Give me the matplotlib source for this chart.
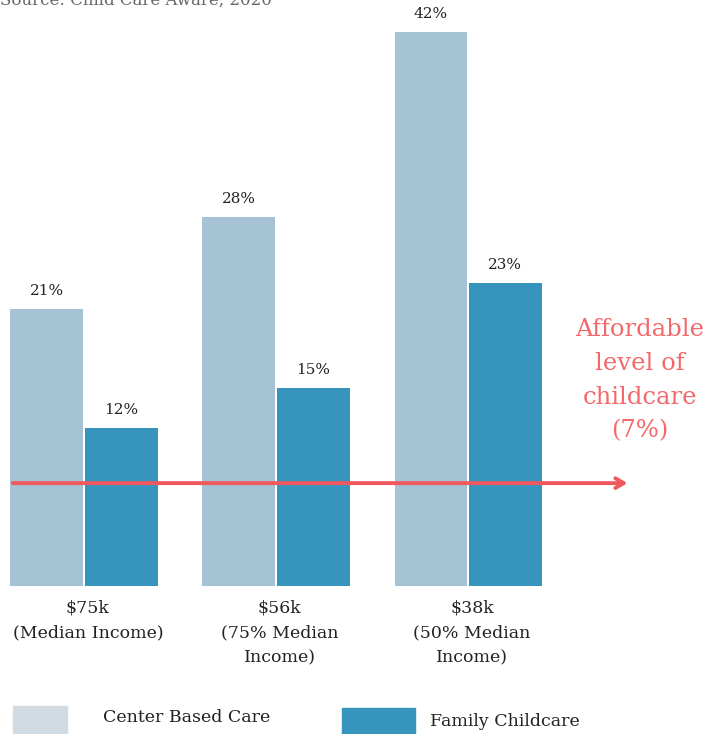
import matplotlib
matplotlib.use("Agg")
import matplotlib.pyplot as plt
import numpy as np
from matplotlib.patches import Rectangle

# Data
groups = ["$75k\n(Median Income)", "$56k\n(75% Median\nIncome)", "$38k\n(50% Median\nIncome)"]
center_based = [21, 28, 42]
family_care = [12, 15, 23]
series_names = ["Center Based Care", "Family Childcare"]
affordable_level = 7.8  # drawn position of the 7% line in the source graphic
affordable_text = "Affordable\nlevel of\nchildcare\n(7%)"
source_text = "Source: Child Care Aware, 2020"

LIGHT = "#a6c3d6"
DARK = "#3795bd"
LEGEND_LIGHT = "#d0dbe4"
RED = "#f0585d"
TEXT_RED = "#f4676a"
FONT = "DejaVu Serif"

plt.rcParams["font.family"] = FONT

fig = plt.figure(figsize=(7.05, 7.34), dpi=100)
ax = fig.add_axes([0, 148 / 734, 1, 586 / 734])

x = np.arange(len(groups))
w = 0.38
ax.bar(x - 0.193, center_based, w, color=LIGHT)
ax.bar(x + 0.193, family_care, w, color=DARK)

for xi, v in zip(x - 0.193, center_based):
    ax.annotate(f"{v}%", (xi, v), xytext=(0, 8), textcoords="offset points",
                ha="center", va="bottom", fontsize=11, color="#222222")
for xi, v in zip(x + 0.193, family_care):
    ax.annotate(f"{v}%", (xi, v), xytext=(0, 8), textcoords="offset points",
                ha="center", va="bottom", fontsize=11, color="#222222")

ax.set_xlim(-0.4375, 3.234)
ax.set_ylim(0, 44.43)

# affordable line with arrow
ax.annotate("", xy=(2.845, affordable_level), xytext=(-0.385, affordable_level),
            arrowprops=dict(arrowstyle="->,head_length=0.6,head_width=0.35",
                            color=RED, lw=2.8))
ax.text(2.896, 15.6, affordable_text, ha="center", va="center", fontsize=17.5,
        color=TEXT_RED, linespacing=1.6)

ax.set_xticks(x + 0.02)
ax.set_xticklabels(groups, fontsize=12.5, linespacing=1.6, color="#222222")
ax.tick_params(axis="x", length=0, pad=10)
ax.set_yticks([])
for s in ax.spines.values():
    s.set_visible(False)

# source line, cropped at the top like the original
fig.text(0.0, 1 - 5 / 734, source_text, ha="left", va="baseline",
         fontsize=12, color="#666666")

# legend
fig.add_artist(Rectangle((13 / 705, 0), 54 / 705, 28 / 734,
                         transform=fig.transFigure, color=LEGEND_LIGHT))
fig.text(103 / 705, 1 - 718 / 734, series_names[0], ha="left", va="center",
         fontsize=12.5, color="#222222")
fig.add_artist(Rectangle((342 / 705, 0), 73 / 705, 26 / 734,
                         transform=fig.transFigure, color=DARK))
fig.text(430 / 705, 1 - 721 / 734, series_names[1], ha="left", va="center",
         fontsize=12.5, color="#222222")

fig.savefig("out.png", dpi=100)
